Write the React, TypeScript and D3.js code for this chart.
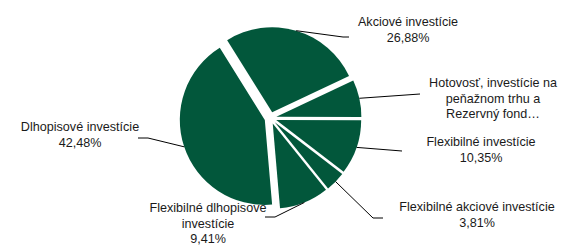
import React from "react";
import * as d3 from "d3";

// slices clockwise, starting at the upper left edge of "Akciové investície"
const categories = [
  ["Akciové investície"],
  ["Hotovosť, investície na", "peňažnom trhu a", "Rezervný fond…"],
  ["Flexibilné investície"],
  ["Flexibilné akciové investície"],
  ["Flexibilné dlhopisové", "investície"],
  ["Dlhopisové investície"],
];
const shares = [26.88, 7.07, 10.35, 3.81, 9.41, 42.48];
const shareLabels = ["26,88%", null, "10,35%", "3,81%", "9,41%", "42,48%"];

const W = 570;
const H = 247;
const cx = 270.5;
const cy = 118;
const radius = 85;
const explode = 6;
const green = "#02573b";

// where each label sits (centre x, first baseline) and the leader's elbow points
const labelLayout = [
  { x: 408, y: 26, path: [[343, 37], [349, 37]] },
  { x: 493, y: 87, path: [[420, 94]] },
  { x: 481, y: 146, path: [[402, 151]] },
  { x: 477, y: 211, path: [[373, 218], [383, 218]] },
  { x: 208, y: 212, path: [[275, 217], [265, 217]] },
  { x: 80, y: 131, path: [[148, 138], [138, 138]] },
];

export default function App() {
  const pie = d3
    .pie<number>()
    .sort(null)
    .startAngle((-32 * Math.PI) / 180)
    .endAngle((328 * Math.PI) / 180)
    .value((d) => d);
  const arcs = pie(shares);
  const arc = d3.arc<d3.PieArcDatum<number>>().innerRadius(0).outerRadius(radius);

  return (
    <svg width={W} height={H} style={{ position: "absolute", left: 0, top: 0 }}>
      <rect width={W} height={H} fill="#fff" />
      {arcs.map((a, i) => {
        const mid = (a.startAngle + a.endAngle) / 2;
        const ox = cx + explode * Math.sin(mid);
        const oy = cy - explode * Math.cos(mid);
        const sx = ox + radius * Math.sin(mid);
        const sy = oy - radius * Math.cos(mid);
        const lay = labelLayout[i];
        const line = d3.line()([[sx, sy], ...(lay.path as [number, number][])]);
        const lines = [...categories[i]];
        if (shareLabels[i]) lines.push(shareLabels[i] as string);
        return (
          <g key={i}>
            <path d={arc(a) || ""} transform={`translate(${ox},${oy})`} fill={green} />
            <path d={line || ""} fill="none" stroke="#000" strokeWidth={1} />
            <text
              x={lay.x}
              y={lay.y}
              textAnchor="middle"
              fontFamily="'Liberation Sans', Arial, sans-serif"
              fontSize={12.6}
              fill="#1a1a1a"
            >
              {lines.map((t, j) => (
                <tspan key={j} x={lay.x} dy={j === 0 ? 0 : 15.5}>
                  {t}
                </tspan>
              ))}
            </text>
          </g>
        );
      })}
    </svg>
  );
}
